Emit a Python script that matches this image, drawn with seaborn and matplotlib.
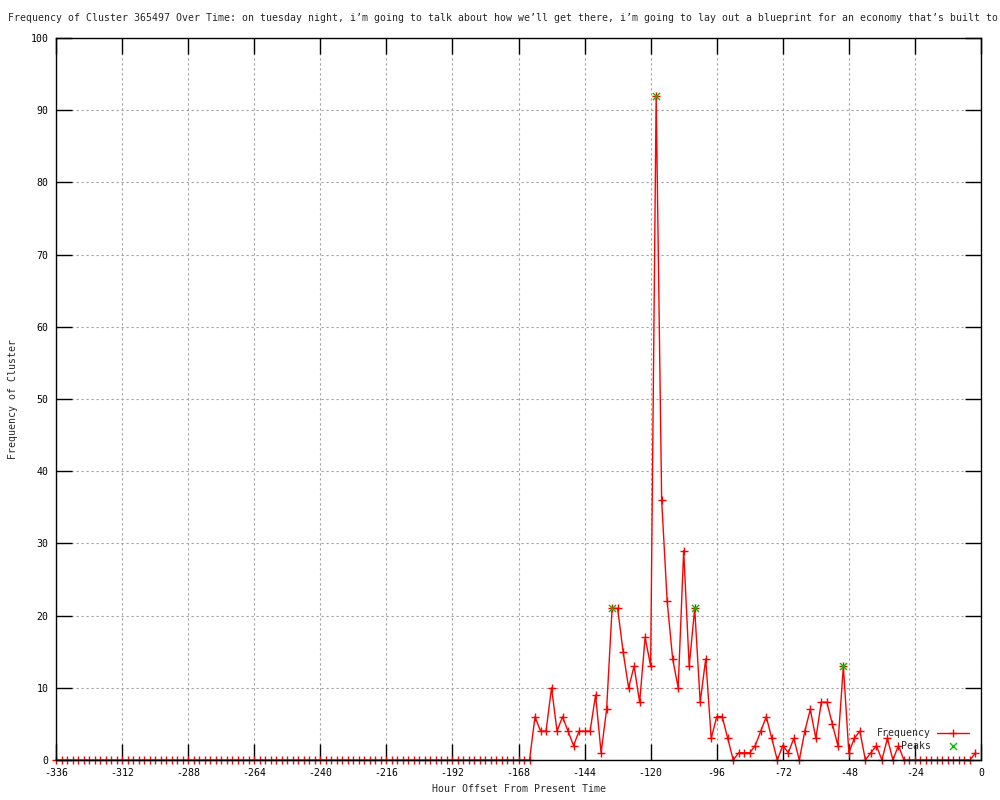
import matplotlib
matplotlib.use("Agg")
import matplotlib.pyplot as plt
import seaborn as sns

# hour offsets, one sample every 2 hours
hours = list(range(-336, 0, 2))

# frequency per sample (-336 ... -2)
freq = [
    0, 0, 0, 0, 0, 0, 0, 0, 0, 0, 0, 0, 0, 0, 0, 0, 0, 0, 0, 0,
    0, 0, 0, 0, 0, 0, 0, 0, 0, 0, 0, 0, 0, 0, 0, 0, 0, 0, 0, 0,
    0, 0, 0, 0, 0, 0, 0, 0, 0, 0, 0, 0, 0, 0, 0, 0, 0, 0, 0, 0,
    0, 0, 0, 0, 0, 0, 0, 0, 0, 0, 0, 0, 0, 0, 0, 0, 0, 0, 0, 0,
    0, 0, 0, 0, 0, 0, 0,
    6, 4, 4, 10, 4, 6, 4, 2, 4, 4, 4, 9, 1, 7,
    21, 21, 15, 10, 13, 8, 17, 13, 92, 36, 22, 14, 10, 29, 13, 21, 8, 14,
    3, 6, 6, 3, 0, 1, 1, 1, 2, 4, 6, 3, 0, 2, 1, 3, 0, 4, 7, 3, 8, 8, 5, 2,
    13, 1, 3, 4, 0, 1, 2, 0, 3, 0, 2,
    0, 0, 0, 0, 0, 0, 0, 0, 0, 0, 0, 0, 0,
    1,
]

peak_hours = [-134, -118, -104, -50]
peak_values = [21, 92, 21, 13]

title = ("Frequency of Cluster 365497 Over Time: on tuesday night, i\u2019m going to talk "
         "about how we\u2019ll get there, i\u2019m going to lay out a blueprint for an "
         "economy that\u2019s built to")

sns.set_style("ticks")
plt.rcParams['font.family'] = ['DejaVu Sans Mono']
plt.rcParams['font.size'] = 7.1
plt.rcParams['axes.unicode_minus'] = False

fig = plt.figure(figsize=(10, 8), dpi=100)
ax = fig.add_axes([0.056, 0.05, 0.925, 0.9025])

sns.lineplot(x=hours, y=freq, ax=ax, color='red', linewidth=1.0,
             marker='+', markersize=5.2, markeredgecolor='red', markeredgewidth=1.0,
             label='Frequency', clip_on=False, zorder=3)
sns.scatterplot(x=peak_hours, y=peak_values, ax=ax, color='#00c000', marker='x',
                s=26, linewidth=1.0, label='    Peaks', clip_on=False, zorder=4)

ax.set_xlim(-336, 0)
ax.set_ylim(0, 100)
ax.set_xticks(range(-336, 1, 24))
ax.set_yticks(range(0, 101, 10))
ax.tick_params(direction='in', length=11.5, width=1, top=True, right=True,
               labelsize=7.1, colors='black')
ax.tick_params(axis='x', pad=5.5)
ax.tick_params(axis='y', pad=5.5)
ax.grid(True, color='#a0a0a0', linestyle=(0, (2, 2.5)), linewidth=0.8)
for sp in ax.spines.values():
    sp.set_visible(True)
    sp.set_color('black')
    sp.set_linewidth(1.0)
    sp.set_zorder(5)

ax.set_xlabel('Hour Offset From Present Time', fontsize=7.1)
ax.set_ylabel('Frequency of Cluster', fontsize=7.1)
ax.xaxis.label.set_va('center')
ax.xaxis.set_label_coords(0.5, -0.0395)
ax.yaxis.label.set_va('center')
ax.yaxis.set_label_coords(-0.0465, 0.5)

handles, labels = ax.get_legend_handles_labels()
ax.legend(handles, labels, loc='lower right', bbox_to_anchor=(0.995, 0.003),
          markerfirst=False, frameon=False, handlelength=3.3, handletextpad=0.6,
          labelspacing=0.25, borderaxespad=0.3, fontsize=7.1, numpoints=1)

fig.text(0.008, 1 - 18 / 800, title, ha='left', va='center', fontsize=7.1)

fig.savefig('out.png', dpi=100)
